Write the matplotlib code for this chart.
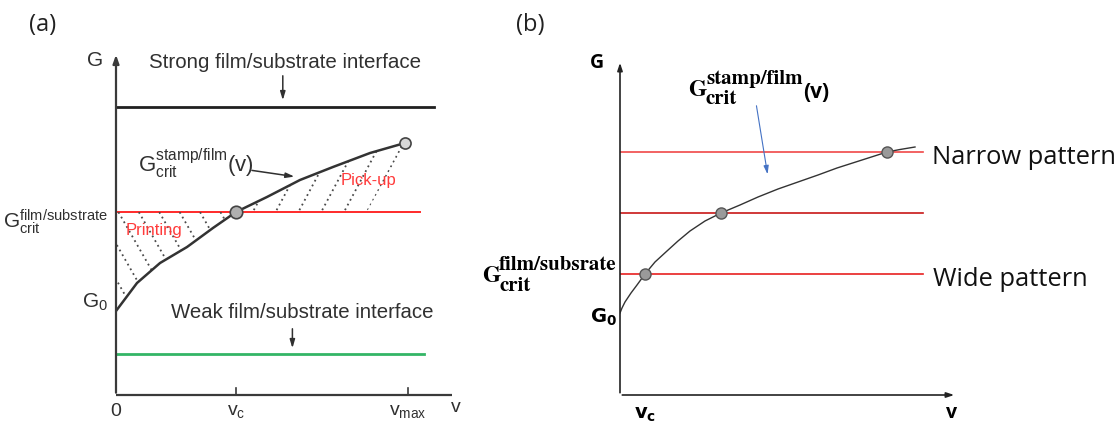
import numpy as np
import matplotlib
matplotlib.use("Agg")
import matplotlib.pyplot as plt
from matplotlib.patches import Polygon

plt.rcParams['font.family'] = ['Liberation Sans', 'DejaVu Sans']

# ---------------- data (panel a) ----------------
a_v = [0.0, 0.175, 0.367, 0.592, 0.808, 1.0, 1.258, 1.533, 1.808, 2.117, 2.408]
a_G = [0.84, 1.12, 1.32, 1.48, 1.67, 1.83, 1.98, 2.15, 2.28, 2.42, 2.52]
a_strong = 2.88
a_crit = 1.83
a_weak = 0.41
a_vc = 1.0
a_vmax = 2.43
a_ticklabels = ['0', r'$\mathregular{v_c}$', r'$\mathregular{v_{max}}$']

# ---------------- data (panel b) ----------------
b_v = [0.0, 0.02, 0.05, 0.11, 0.17, 0.25, 0.35, 0.47, 0.58, 0.70, 0.85, 1.01,
       1.20, 1.38, 1.58, 1.78, 1.98, 2.17, 2.42, 2.67, 2.80, 2.95]
b_G = [0.82, 0.87, 0.93, 1.02, 1.10, 1.21, 1.33, 1.44, 1.54, 1.64, 1.74, 1.82,
       1.90, 1.98, 2.06, 2.13, 2.20, 2.27, 2.35, 2.43, 2.455, 2.48]
b_levels = [2.43, 1.82, 1.21]          # narrow, middle, wide
b_level_colors = ['#f04848', '#c81818', '#e82020']
b_points_v = [0.25, 1.01, 2.67]
b_points_G = [1.21, 1.82, 2.43]

W, H = 1119, 429
fig = plt.figure(figsize=(W / 100, H / 100), dpi=100)

# ---------------- panel (a) ----------------
ax = fig.add_axes([116 / W, 34 / H, (460 - 116) / W, (395 - 40) / H])
ax.set_xlim(0, 344 / 120)
ax.set_ylim(0, 3.55)
ax.axis('off')

axc = '#3a3a3a'
ax.annotate('', xy=(0, 3.43), xytext=(0, -0.005),
            arrowprops=dict(arrowstyle='-|>,head_length=0.5,head_width=0.18', color=axc, lw=1.6),
            annotation_clip=False)
ax.plot([0, 2.8], [0, 0], color=axc, lw=1.6, clip_on=False, solid_capstyle='butt')
for t in [a_vc, a_vmax]:
    ax.plot([t, t], [0, 0.07], color=axc, lw=1.2)

ax.plot([0, 2.65], [a_strong, a_strong], color='#202020', lw=2.0)
ax.plot([0, 2.53], [a_crit, a_crit], color='#ff2a2a', lw=1.4)
ax.plot([0, 2.57], [a_weak, a_weak], color='#33b566', lw=2.0)

# hatch regions (dotted)
i_c = a_v.index(a_vc)
print_poly = Polygon([(0, a_crit)] + list(zip(a_v[:i_c + 1], a_G[:i_c + 1])),
                     closed=True, facecolor='none', edgecolor='none', transform=ax.transData)
pick_poly = Polygon(list(zip(a_v[i_c:], a_G[i_c:])) + [(2.09, a_crit)],
                    closed=True, facecolor='none', edgecolor='none', transform=ax.transData)
ax.add_patch(print_poly)
ax.add_patch(pick_poly)
yy = np.array([-1.0, 4.0])
for v0 in np.arange(-0.66, 1.0, 0.17):
    ln, = ax.plot(v0 + (a_crit - yy) / 2.1, yy, color='#4a4a4a', lw=1.3,
                  linestyle=(0, (1, 2.0)))
    ln.set_clip_path(print_poly)
for v0 in np.arange(1.14, 2.2, 0.19):
    ln, = ax.plot(v0 + (yy - a_crit) / 2.25, yy, color='#4a4a4a', lw=1.3,
                  linestyle=(0, (1, 2.0)))
    ln.set_clip_path(pick_poly)

ax.plot(a_v, a_G, color='#333333', lw=1.8)
ax.plot([a_vc], [a_crit], 'o', ms=9, mfc='#b0b0b0', mec='#444444', mew=1.2)
ax.plot([a_v[-1]], [a_G[-1]], 'o', ms=8, mfc='#d8d8d8', mec='#444444', mew=1.2)

tc = '#303030'
ax.text(-0.175, 3.35, 'G', fontsize=15, color=tc, ha='center', va='center')
ax.text(1.41, 3.32, 'Strong film/substrate interface', fontsize=14.8, color=tc,
        ha='center', va='center')
ax.annotate('', xy=(1.39, 2.92), xytext=(1.39, 3.22),
            arrowprops=dict(arrowstyle='-|>,head_length=0.5,head_width=0.15', color=tc, lw=1.1))
ax.text(1.55, 0.82, 'Weak film/substrate interface', fontsize=14.7, color=tc,
        ha='center', va='center')
ax.annotate('', xy=(1.47, 0.44), xytext=(1.47, 0.69),
            arrowprops=dict(arrowstyle='-|>,head_length=0.5,head_width=0.15', color=tc, lw=1.1))
ax.text(0.18, 2.31, r'$\mathregular{G^{stamp/film}_{crit}(v)}$', fontsize=16, color=tc,
        ha='left', va='center')
ax.annotate('', xy=(1.51, 2.18), xytext=(1.11, 2.25),
            arrowprops=dict(arrowstyle='-|>,head_length=0.5,head_width=0.15', color=tc, lw=1.1))
ax.text(0.32, 1.64, 'Printing', fontsize=12, color='#ff3b3b', ha='center', va='center')
ax.text(2.1, 2.15, 'Pick-up', fontsize=12, color='#ff3b3b', ha='center', va='center')
ax.text(-0.07, 1.73, r'$\mathregular{G^{film/substrate}_{crit}}$', fontsize=15, color=tc,
        ha='right', va='center')
ax.text(-0.175, 0.93, r'$\mathregular{G_0}$', fontsize=15, color=tc, ha='center', va='center')
for t, lab in zip([0, a_vc, a_vmax], a_ticklabels):
    ax.text(t, -0.08, lab, fontsize=14, color=tc, ha='center', va='top')
ax.text(2.83, -0.13, 'v', fontsize=14, color=tc, ha='center', va='center')
fig.text(43 / W, 1 - 25 / H, '(a)', fontsize=17, family='Open Sans', ha='center', va='center',
         color='#222222')

# ---------------- panel (b) ----------------
bx = fig.add_axes([620 / W, 34 / H, 350 / W, (395 - 40) / H])
bx.set_xlim(0, 3.5)
bx.set_ylim(0, 3.55)
bx.axis('off')

bx.annotate('', xy=(0, 3.35), xytext=(0, -0.005),
            arrowprops=dict(arrowstyle='-|>,head_length=0.45,head_width=0.15', color='#222222', lw=1.2),
            annotation_clip=False)
bx.annotate('', xy=(3.37, 0), xytext=(-0.005, 0),
            arrowprops=dict(arrowstyle='-|>,head_length=0.45,head_width=0.15', color='#222222', lw=1.2),
            annotation_clip=False)
for lvl, col in zip(b_levels, b_level_colors):
    bx.plot([0, 3.03], [lvl, lvl], color=col, lw=1.2)
bx.plot(b_v, b_G, color='#333333', lw=1.0)
bx.plot(b_points_v, b_points_G, 'o', ls='none', ms=8, mfc='#9a9a9a', mec='#555555', mew=1.0)

bf = 'Open Sans'
sf = 'STIXGeneral'
bx.text(-0.23, 3.32, 'G', fontsize=14, fontweight='bold', family=bf, ha='center', va='center')

# G_crit^stamp/film (v) label
bx.text(0.68, 3.04, 'G', fontsize=17, fontweight='bold', family=sf, ha='left', va='center')
bx.text(0.86, 3.16, 'stamp/film', fontsize=15, fontweight='bold', family=sf, ha='left', va='center')
bx.text(0.86, 2.96, 'crit', fontsize=15, fontweight='bold', family=sf, ha='left', va='center')
bx.text(1.83, 3.03, '(v)', fontsize=15, fontweight='bold', family=bf, ha='left', va='center')
bx.annotate('', xy=(1.48, 2.18), xytext=(1.36, 2.92),
            arrowprops=dict(arrowstyle='-|>,head_length=0.5,head_width=0.15', color='#4472c4', lw=0.8))

# G_crit^film/subsrate label
bx.text(-1.38, 1.18, 'G', fontsize=17, fontweight='bold', family=sf, ha='left', va='center')
bx.text(-1.21, 1.30, 'film/subsrate', fontsize=15, fontweight='bold', family=sf, ha='left', va='center')
bx.text(-1.21, 1.09, 'crit', fontsize=15, fontweight='bold', family=sf, ha='left', va='center')

bx.text(-0.17, 0.78, r'$\mathbf{G_0}$', fontsize=14, math_fontfamily='dejavusans',
        ha='center', va='center')
bx.text(0.25, -0.2, r'$\mathbf{v_c}$', fontsize=14, math_fontfamily='dejavusans',
        ha='center', va='center')
bx.text(3.32, -0.18, 'v', fontsize=14, fontweight='bold', family=bf, ha='center', va='center')
bx.text(3.12, 2.38, 'Narrow pattern', fontsize=18.4, family=bf, ha='left', va='center',
        color='#111111')
bx.text(3.13, 1.15, 'Wide pattern', fontsize=18.4, family=bf, ha='left', va='center',
        color='#111111')
fig.text(530 / W, 1 - 25 / H, '(b)', fontsize=17, family='Open Sans', ha='center', va='center',
         color='#222222')

fig.savefig('out.png', dpi=100, facecolor='white')
